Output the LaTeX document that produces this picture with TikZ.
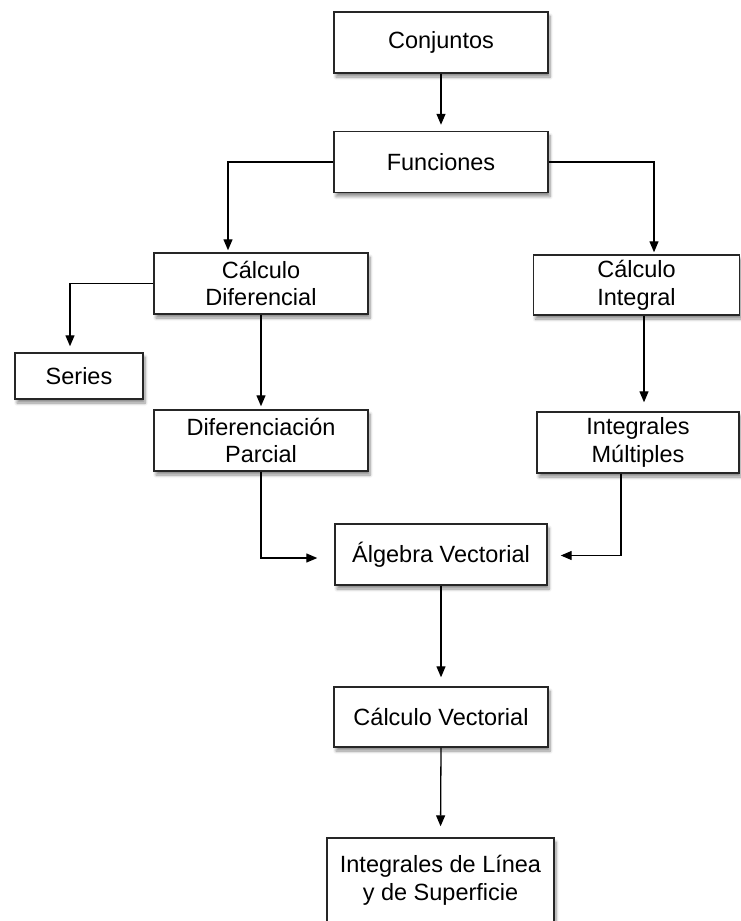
\documentclass[tikz,border=0pt]{standalone}
\usepackage{fontspec}
\setmainfont{Liberation Sans}
\usetikzlibrary{arrows.meta,shadows.blur}
\tikzset{
  box/.style={draw=black!85, line width=1.4pt, fill=white, align=center, inner sep=0pt,
    font=\fontsize{23.5}{27.7}\selectfont,
    blur shadow={shadow xshift=2pt, shadow yshift=-4pt, shadow blur steps=6, shadow blur radius=3pt, shadow opacity=45}},
  conn/.style={draw=black, line width=1.3pt, -{Triangle[length=11pt,width=9pt]}}
}
\begin{document}
\begin{tikzpicture}[x=1pt,y=-1pt]
\useasboundingbox (0,0) rectangle (741,921);
\node[box, minimum width=214pt, minimum height=61pt] (conj) at (441,42.5) {Conjuntos};
\node[box, minimum width=214pt, minimum height=61pt] (func) at (441,162) {Funciones};
\node[box, minimum width=214pt, minimum height=61pt] (cdif) at (261,283.5) {Cálculo\\Diferencial};
\node[box, minimum width=206pt, minimum height=60pt] (cint) at (636.5,285) {Cálculo\\Integral};
\node[box, minimum width=128pt, minimum height=46pt] (ser) at (79,376) {Series};
\node[box, minimum width=214pt, minimum height=61pt] (dpar) at (261,440.5) {Diferenciación\\Parcial};
\node[box, minimum width=202pt, minimum height=61pt] (imul) at (638,442.5) {Integrales\\Múltiples};
\node[box, minimum width=212pt, minimum height=61pt] (alg) at (441,554.5) {Álgebra Vectorial};
\node[box, minimum width=214pt, minimum height=60pt] (cvec) at (441,717) {Cálculo Vectorial};
\node[box, minimum width=227pt, minimum height=84pt] (ilin) at (440.5,880) {Integrales de Línea\\y de Superficie};

\draw[conn, shorten >=6pt] (conj.south) -- (func.north);
\draw[conn, shorten >=2pt] (func.west) -| ([xshift=-33pt]cdif.north);
\draw[conn, shorten >=2pt] (func.east) -| ([xshift=17.5pt]cint.north);
\draw[conn, shorten >=6pt] (cdif.west) -| ([xshift=-9pt]ser.north);
\draw[conn, shorten >=3pt] (cdif.south) -- (dpar.north);
\draw[conn, shorten >=9pt] ([xshift=7.5pt]cint.south) -- ([xshift=7.5pt]cint.south |- imul.north);
\draw[conn, shorten >=17pt] (dpar.south) |- ([yshift=-3.5pt]alg.west);
\draw[conn, shorten >=13pt] ([xshift=-17pt]imul.south) |- ([yshift=-1pt]alg.east);
\draw[conn, shorten >=9pt] (alg.south) -- (cvec.north);
\draw[conn, shorten >=11pt] (cvec.south) -- (ilin.north);
\end{tikzpicture}
\end{document}
